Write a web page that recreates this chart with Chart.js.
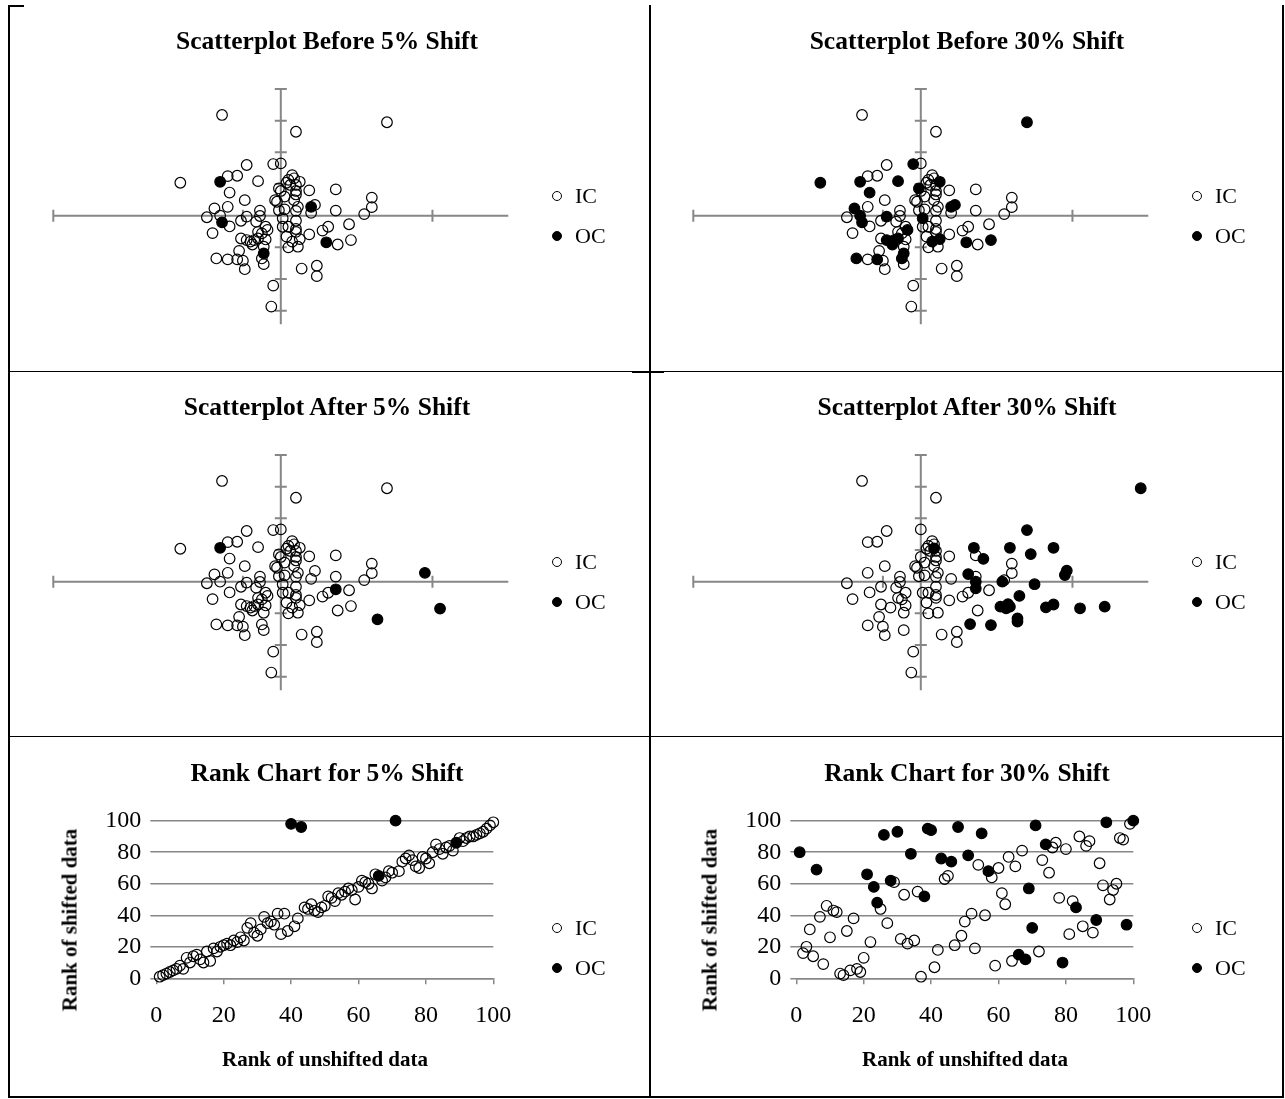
<!DOCTYPE html>
<html>
<head>
<meta charset="utf-8">
<title>Scatterplots and rank charts</title>
<script src="https://cdn.jsdelivr.net/npm/chart.js@4.4.1/dist/chart.umd.min.js"></script>
<style>
  html, body { margin:0; padding:0; background:#fff; }
  #page { position:relative; width:1285px; height:1099px; overflow:hidden; background:#fff;
          font-family:"Liberation Serif","Times New Roman",serif; color:#000; }
  #page canvas { position:absolute; left:0; top:0; }
  .rule { position:absolute; background:#000; }
  .title { position:absolute; font-weight:bold; font-size:25.5px; line-height:1; white-space:nowrap; transform:translateX(-50%); }
  .axis-title { position:absolute; font-weight:bold; font-size:21px; line-height:1; white-space:nowrap; }
  .legend-text { position:absolute; font-size:22px; line-height:1; white-space:nowrap; }
  .legend-mark { position:absolute; box-sizing:border-box; width:10.6px; height:10.6px; border:1.2px solid #000; border-radius:50%; }
</style>
</head>
<body>
<div id="page"></div>
<script>
// ---- scatter data: the 97 unshifted observations (x, y) ----
const unshifted = [
  [-0.31, 3.18], [0.08, 2.65], [0.56, 2.95], [-0.53, 1.04], [-0.04, -2.21], [-0.05, -2.87],
  [-0.19, -1.69], [-0.34, -1.35], [-0.28, -1.38], [-0.23, -1.38], [-0.20, -1.42], [-0.22, -1.11],
  [0.11, -1.67], [0.19, -1.58], [0.19, -1.91], [0.48, 0.57], [0.48, 0.27], [0.44, 0.05],
  [0.36, -0.27], [0.37, -0.77], [0.30, -0.91], [0.29, 0.83], [0.29, 0.16], [0.25, -0.35],
  [0.22, -0.47], [0.24, -0.84], [0.15, 0.80], [0.15, -0.59], [-0.18, 1.60], [-0.04, 1.63],
  [0.00, 1.65], [-0.32, 1.07], [-0.28, 1.25], [-0.23, 1.26], [-0.12, 1.09], [-0.27, 0.73],
  [-0.19, 0.49], [-0.28, 0.28], [-0.35, 0.23], [-0.39, -0.05], [-0.32, 0.00], [-0.31, -0.21],
  [-0.27, -0.34], [-0.36, -0.55], [-0.21, -0.16], [-0.18, -0.03], [-0.11, 0.16], [-0.11, -0.01],
  [-0.13, -0.19], [-0.08, -0.35], [-0.07, -0.45], [-0.10, -0.56], [-0.12, -0.72], [-0.18, -0.77],
  [-0.21, -0.72], [-0.15, -0.91], [-0.14, -0.77], [-0.08, -0.75], [-0.09, -0.98], [-0.09, -1.19],
  [-0.10, -1.35], [-0.09, -1.53], [0.06, 1.28], [0.07, 1.18], [0.04, 1.13], [0.10, 1.07],
  [0.03, 1.04], [0.08, 0.97], [-0.01, 0.86], [0.00, 0.78], [0.08, 0.78], [0.08, 0.67],
  [-0.03, 0.49], [-0.02, 0.44], [0.07, 0.49], [0.09, 0.28], [0.02, 0.20], [-0.01, 0.17],
  [0.08, 0.15], [0.16, 0.28], [0.18, 0.34], [0.16, 0.09], [0.01, -0.08], [0.08, -0.16],
  [0.01, -0.35], [0.04, -0.35], [0.08, -0.42], [0.08, -0.51], [0.06, -0.82], [0.10, -0.74],
  [0.04, -1.00], [0.09, -0.98], [0.03, -0.66], [0.02, 0.60], [0.05, 0.97], [-0.12, -0.51],
  [-0.16, -0.82]
];
// observations flagged out of control under each shift size
const oc5Index = [25, 31, 41, 59, 79];
const oc30Index = [2, 3, 7, 9, 19, 25, 29, 31, 34, 35, 38, 40, 41, 45, 50, 52, 53, 55, 56, 59,
                   60, 65, 68, 79, 80, 82, 88, 89];
// out-of-control observations after the shift
const oc5Shifted = [[-0.32, 1.07], [0.29, -0.24], [0.51, -1.19], [0.76, 0.28], [0.84, -0.85]];
const oc30Shifted = [
  [1.16, 2.95], [0.07, 1.05], [0.26, -1.34], [0.37, -1.37], [0.97, -0.79], [0.84, -0.84],
  [0.56, 1.63], [0.28, 1.07], [0.47, 1.07], [0.33, 0.72], [0.25, 0.24], [0.29, 0.00],
  [0.29, -0.21], [0.43, 0.00], [0.52, -0.45], [0.46, -0.71], [0.42, -0.79], [0.45, -0.84],
  [0.47, -0.79], [0.51, -1.16], [0.51, -1.26], [0.70, 1.07], [0.58, 0.87], [0.76, 0.21],
  [0.77, 0.35], [0.60, -0.08], [0.66, -0.81], [0.70, -0.72]
];
// axis tick positions of the scatterplots
const scatterXTicks = [-1.2, -0.2, 0.8];
const scatterYTicks = [4, 3, 2, 1, -1, -2, -3];

// ---- rank charts: [rank of unshifted, rank of shifted] ----
const rank5IC = [
  [1,1],[2,2],[3,3],[4,4],[5,5],[6,6],[7,8],[8,6],[9,13],[10,10],[11,14],[12,15],[13,12],[14,10],
  [15,17],[16,11],[17,19],[18,17],[19,20],[20,21],[21,22],[22,21],[23,24],[24,23],[25,26],[26,24],
  [27,32],[28,35],[29,29],[30,27],[31,31],[32,39],[33,35],[34,36],[35,34],[36,41],[37,28],[38,41],
  [39,30],[41,33],[42,38],[44,45],[45,44],[46,47],[47,43],[48,42],[49,45],[50,46],[51,52],[52,51],
  [53,49],[54,54],[55,53],[56,55],[57,57],[58,56],[59,50],[60,58],[61,62],[62,61],[63,60],[64,57],
  [65,66],[67,62],[68,64],[69,68],[70,67],[72,68],[73,74],[74,76],[75,78],[76,75],[77,71],[78,70],
  [79,77],[80,76],[81,73],[82,80],[83,85],[84,82],[85,79],[86,83],[87,84],[88,81],[90,89],[91,87],
  [92,89],[93,90],[94,90],[95,91],[96,92],[97,93],[98,95],[99,97],[100,99]
];
const rank5OC = [[40,98],[43,96],[66,65],[71,100],[89,86]];
const rank30IC = [
  [2,16],[3,20],[4,31],[5,14],[7,39],[8,9],[9,46],[10,26],[11,43],[12,42],[13,3],[14,2],[15,30],
  [16,5],[17,38],[18,6],[19,4],[20,13],[22,23],[25,44],[27,35],[29,61],[31,25],[32,53],[33,22],
  [35,24],[36,55],[37,1],[41,7],[42,18],[44,63],[45,65],[47,21],[49,27],[50,36],[52,41],[53,19],
  [54,72],[56,40],[58,64],[59,8],[60,70],[61,54],[62,47],[63,77],[64,11],[65,71],[67,81],[72,17],
  [73,75],[75,67],[76,83],[77,86],[78,51],[80,82],[81,28],[82,49],[84,90],[85,33],[86,84],[87,87],
  [88,29],[90,73],[91,59],[93,50],[94,56],[95,60],[96,89],[97,88],[99,98]
];
const rank30OC = [
  [1,80],[6,69],[21,66],[23,58],[24,48],[26,91],[28,62],[30,93],[34,79],[38,52],[39,95],[40,94],
  [43,76],[46,74],[48,96],[51,78],[55,92],[57,68],[66,15],[68,12],[69,57],[70,32],[71,97],[74,85],
  [79,10],[83,45],[89,37],[92,99],[98,34],[100,100]
];
const rankTicks = [0, 20, 40, 60, 80, 100];

// ---- page layout ----
const W = 1285, H = 1099;
const page = document.getElementById('page');
const FONT = "'Liberation Serif', 'Times New Roman', serif";
const AXIS_GREY = '#878787';
Chart.defaults.font.family = FONT;

function el(cls, text, style) {
  const d = document.createElement('div');
  d.className = cls;
  if (text) d.textContent = text;
  Object.assign(d.style, style);
  page.appendChild(d);
  return d;
}
function rule(l, t, w, h) { el('rule', '', {left: l + 'px', top: t + 'px', width: w + 'px', height: h + 'px'}); }

// table frame
rule(8, 5, 2, 1093);
rule(8, 5, 16, 2);
rule(1282, 5, 2, 1093);
rule(8, 1096, 1276, 2);
rule(649, 5, 2, 1093);
rule(8, 371, 1276, 1);
rule(8, 736, 1276, 1);
rule(632, 371, 32, 2);

const rowTop = [0, 366, 732];
const colShift = [0, 640];

function titleAt(text, cx, baseline) {
  el('title', text, {left: cx + 'px', top: (baseline - 0.8375 * 25.5) + 'px'});
}
function legendAt(markX, textX, icY, ocY) {
  [[icY, 'IC', 'transparent'], [ocY, 'OC', '#000']].forEach(([cy, label, fill]) => {
    el('legend-mark', '', {left: (markX - 5.3) + 'px', top: (cy - 5.3) + 'px', background: fill});
    el('legend-text', label, {left: textX + 'px', top: (cy + 0.331 * 22 - 0.8375 * 22) + 'px'});
  });
}

// axes crossing at the origin, drawn from the chart's own scales
const crossAxes = {
  id: 'crossAxes',
  beforeDatasetsDraw(chart, args, opts) {
    if (!opts.enabled) return;
    const {ctx} = chart;
    const x = chart.scales.x, y = chart.scales.y;
    const x0 = x.getPixelForValue(0), y0 = y.getPixelForValue(0);
    ctx.save();
    ctx.strokeStyle = opts.color;
    ctx.lineWidth = opts.width;
    ctx.beginPath();
    ctx.moveTo(x.getPixelForValue(x.min), y0); ctx.lineTo(x.getPixelForValue(x.max), y0);
    ctx.moveTo(x0, y.getPixelForValue(y.max)); ctx.lineTo(x0, y.getPixelForValue(y.min));
    opts.xTicks.forEach(v => { const p = x.getPixelForValue(v); ctx.moveTo(p, y0 - opts.tick); ctx.lineTo(p, y0 + opts.tick); });
    opts.yTicks.forEach(v => { const p = y.getPixelForValue(v); ctx.moveTo(x0 - opts.tick, p); ctx.lineTo(x0 + opts.tick, p); });
    ctx.stroke();
    ctx.restore();
  }
};

function newCanvas() {
  const c = document.createElement('canvas');
  c.width = W; c.height = H;
  c.style.width = W + 'px'; c.style.height = H + 'px';
  page.appendChild(c);
  return c;
}
function toXY(list) { return list.map(([x, y]) => ({x, y})); }
function seriesSets(ic, oc) {
  const common = {pointRadius: 5.3, pointHoverRadius: 5.3, pointBorderWidth: 1.2, pointBorderColor: '#000', clip: false, showLine: false};
  return [
    Object.assign({label: 'OC', data: toXY(oc), pointBackgroundColor: '#000', order: 0}, common),
    Object.assign({label: 'IC', data: toXY(ic), pointBackgroundColor: 'rgba(0,0,0,0)', order: 1}, common)
  ];
}

function scatterPanel(ic, oc, area) {
  new Chart(newCanvas(), {
    type: 'scatter',
    data: {datasets: seriesSets(ic, oc)},
    options: {
      responsive: false, animation: false, events: [],
      layout: {padding: {left: area.left, top: area.top, right: W - area.right, bottom: H - area.bottom}},
      scales: {
        x: {type: 'linear', min: -1.2, max: 1.2, display: false},
        y: {type: 'linear', min: -3.43, max: 4, display: false}
      },
      plugins: {
        legend: {display: false}, tooltip: {enabled: false},
        crossAxes: {enabled: true, color: AXIS_GREY, width: 2, tick: 6, xTicks: scatterXTicks, yTicks: scatterYTicks}
      }
    },
    plugins: [crossAxes]
  });
}

const Y_AXIS_W = 70, X_AXIS_H = 50;
function rankPanel(ic, oc, area) {
  const tickFont = {family: FONT, size: 24};
  new Chart(newCanvas(), {
    type: 'scatter',
    data: {datasets: seriesSets(ic, oc)},
    options: {
      responsive: false, animation: false, events: [],
      layout: {padding: {left: area.left - Y_AXIS_W, top: area.top, right: W - area.right, bottom: H - area.bottom - X_AXIS_H}},
      scales: {
        x: {
          type: 'linear', min: 0, max: 100,
          afterBuildTicks: s => { s.ticks = rankTicks.map(v => ({value: v})); },
          afterFit: s => { s.height = X_AXIS_H; },
          ticks: {font: tickFont, color: '#000', padding: 17, maxRotation: 0, autoSkip: false},
          grid: {drawOnChartArea: false, drawTicks: true, tickLength: 6, color: AXIS_GREY, lineWidth: 1.5},
          border: {display: true, color: AXIS_GREY, width: 1.5}
        },
        y: {
          type: 'linear', min: 0, max: 100,
          afterBuildTicks: s => { s.ticks = rankTicks.map(v => ({value: v})); },
          afterFit: s => { s.width = Y_AXIS_W; },
          ticks: {font: tickFont, color: '#000', padding: 9, autoSkip: false},
          grid: {drawOnChartArea: true, drawTicks: true, tickLength: 6, color: AXIS_GREY, lineWidth: 1.5},
          border: {display: false}
        }
      },
      plugins: {legend: {display: false}, tooltip: {enabled: false}, crossAxes: {enabled: false}}
    },
    plugins: [crossAxes]
  });
}

// ---- build the six panels ----
const ic5 = unshifted.filter((p, i) => !oc5Index.includes(i));
const oc5 = unshifted.filter((p, i) => oc5Index.includes(i));
const ic30 = unshifted.filter((p, i) => !oc30Index.includes(i));
const oc30 = unshifted.filter((p, i) => oc30Index.includes(i));

function scatterArea(row, col) {
  return {left: 53.3 + colShift[col], right: 508.3 + colShift[col], top: 89 + rowTop[row], bottom: 324.3 + rowTop[row]};
}
scatterPanel(ic5, oc5, scatterArea(0, 0));
scatterPanel(ic30, oc30, scatterArea(0, 1));
scatterPanel(ic5, oc5Shifted, scatterArea(1, 0));
scatterPanel(ic30, oc30Shifted, scatterArea(1, 1));
rankPanel(rank5IC, rank5OC, {left: 156.3, right: 493.3, top: 820.7, bottom: 978.3});
rankPanel(rank30IC, rank30OC, {left: 796.3, right: 1133.3, top: 820.7, bottom: 978.3});

// ---- titles, legends, axis titles ----
const titles = [
  ['Scatterplot Before 5% Shift', 'Scatterplot Before 30% Shift'],
  ['Scatterplot After 5% Shift', 'Scatterplot After 30% Shift'],
  ['Rank Chart for 5% Shift', 'Rank Chart for 30% Shift']
];
titles.forEach((pair, r) => pair.forEach((t, c) => titleAt(t, 327 + colShift[c], 49 + rowTop[r])));
rowTop.forEach(rt => colShift.forEach(cs => legendAt(557 + cs, 575 + cs, 196 + rt, 236 + rt)));
colShift.forEach(cs => {
  el('axis-title', 'Rank of unshifted data', {left: (325 + cs) + 'px', top: (1067 - 0.8375 * 21) + 'px', transform: 'translateX(-50%)'});
  el('axis-title', 'Rank of shifted data', {left: (70 + cs) + 'px', top: '920px', transform: 'translate(-50%, -50%) rotate(-90deg)'});
});
</script>
</body>
</html>
